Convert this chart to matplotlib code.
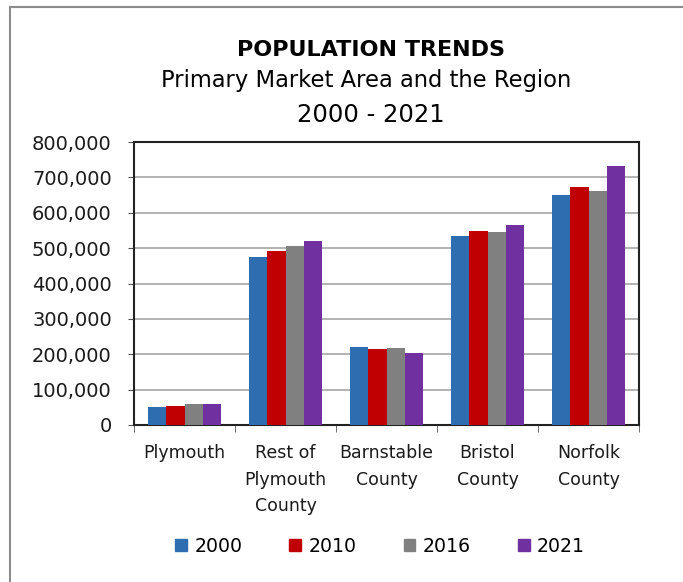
import matplotlib
matplotlib.use("Agg")
import matplotlib.pyplot as plt
import numpy as np
from matplotlib.lines import Line2D
from matplotlib.ticker import FuncFormatter, FixedLocator

plt.rcParams['font.family'] = ['DejaVu Sans']

categories = ["Plymouth", "Rest of\nPlymouth\nCounty", "Barnstable\nCounty", "Bristol\nCounty", "Norfolk\nCounty"]
years = ["2000", "2010", "2016", "2021"]
pop_2000 = [51000, 474000, 221000, 534000, 650000]
pop_2010 = [55000, 491000, 214000, 549000, 673000]
pop_2016 = [58000, 505000, 217000, 545000, 662000]
pop_2021 = [59000, 520000, 203000, 564000, 731000]
series = [pop_2000, pop_2010, pop_2016, pop_2021]
colors = ["#2E6DB0", "#C00000", "#808080", "#7030A0"]

W, H = 683, 582
fig = plt.figure(figsize=(W/100, H/100), dpi=100)
ax = fig.add_axes([134/W, 1-425/H, 505/W, 283/H])

x = np.arange(len(categories))
w = 0.18
for i, (vals, c, yr) in enumerate(zip(series, colors, years)):
    ax.bar(x + (i - 1.5) * w, vals, width=w, color=c, label=yr, zorder=3)

ax.set_xlim(-0.5, len(categories) - 0.5)
ax.set_ylim(0, 800000)
ax.set_yticks(np.arange(0, 800001, 100000))
ax.yaxis.set_major_formatter(FuncFormatter(lambda v, p: f"{int(v):,}"))
ax.grid(axis='y', color='#A6A6A6', linewidth=1.2, zorder=0)
ax.set_xticks(x)
ax.set_xticklabels(categories, fontsize=12.5, linespacing=1.6, va='top', color='#1a1a1a')
ax.tick_params(axis='x', which='major', length=0, pad=14)
ax.xaxis.set_minor_locator(FixedLocator(np.arange(-0.5, len(categories), 1.0)))
ax.tick_params(axis='x', which='minor', length=5, color='#555555')
ax.tick_params(axis='y', labelsize=14, length=4, color='#555555', pad=12, labelcolor='#1a1a1a')
for s in ax.spines.values():
    s.set_color('#222222')
    s.set_linewidth(1.5)

cx = 371 / W
fig.text(cx, 1-56/H, "POPULATION TRENDS", ha='center', va='baseline', fontsize=16, fontweight='bold')
fig.text(cx - 5/W, 1-87/H, "Primary Market Area and the Region", ha='center', va='baseline', fontsize=16.3)
fig.text(cx, 1-122/H, "2000 - 2021", ha='center', va='baseline', fontsize=17.5)

handles = [plt.Rectangle((0, 0), 1, 1, color=c) for c in colors]
fig.legend(handles, years, loc='center', bbox_to_anchor=(380/W, 1-546/H), ncol=4,
           frameon=False, fontsize=13.6, handlelength=0.63, handleheight=0.63,
           handletextpad=0.37, columnspacing=2.5)

fig.add_artist(Line2D([10/W, 10/W], [0, 1-7/H], color='#8C8C8C', linewidth=1.5))
fig.add_artist(Line2D([10/W, 1], [1-7/H, 1-7/H], color='#8C8C8C', linewidth=1.5))

fig.savefig("out.png", dpi=100)
